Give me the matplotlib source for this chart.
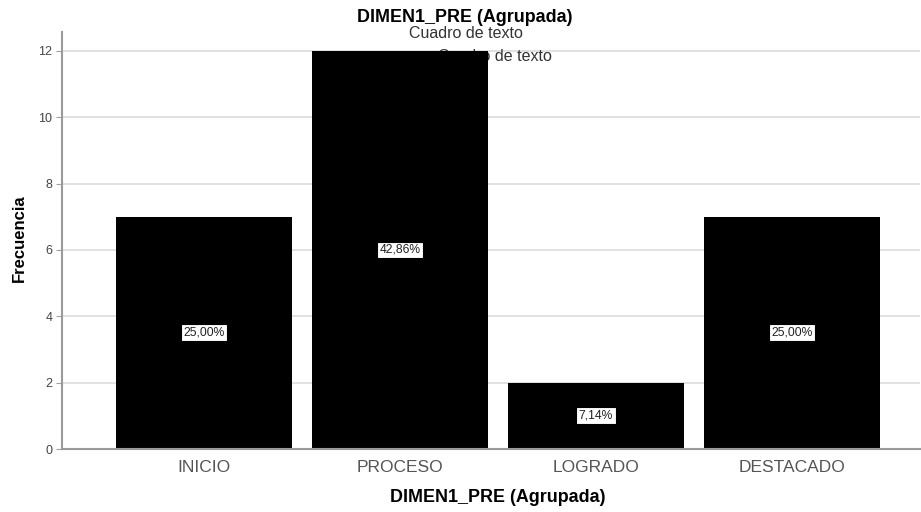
import matplotlib
matplotlib.use("Agg")
import matplotlib.pyplot as plt

categories = ["INICIO", "PROCESO", "LOGRADO", "DESTACADO"]
counts = [7, 12, 2, 7]
pct_labels = ["25,00%", "42,86%", "7,14%", "25,00%"]
yticks = [0, 2, 4, 6, 8, 10, 12]

plt.rcParams['font.family'] = ['Liberation Sans', 'DejaVu Sans']

fig = plt.figure(figsize=(9.21, 5.12), dpi=100)
L, B, W, H = 62, 63, 858, 417
ax = fig.add_axes([L/921, B/512, W/921, H/512])

x = list(range(len(categories)))
ax.bar(x, counts, width=0.9, color="black", zorder=3)
ax.set_xlim(-0.724, 3.653)
ax.set_ylim(0, 12.57)
ax.set_yticks(yticks)
ax.set_xticks(x)
ax.set_xticklabels(categories, fontsize=12.5, color="#555555")
ax.tick_params(axis='y', labelsize=9, colors="#444444", length=4, color="#a0a0a0", pad=3)
ax.tick_params(axis='x', length=0, pad=8)
ax.grid(axis='y', color="#dcdcdc", linewidth=1.2, zorder=0)
for s in ["top", "right"]:
    ax.spines[s].set_visible(False)
for s in ["left", "bottom"]:
    ax.spines[s].set_color("#9a9a9a")
    ax.spines[s].set_linewidth(1.5)
    ax.spines[s].set_zorder(4)

for xi, c, lab in zip(x, counts, pct_labels):
    ax.text(xi, c / 2, lab, ha="center", va="center", fontsize=8.7, color="#222222", zorder=5,
            bbox=dict(boxstyle="square,pad=0.2", fc="white", ec="black", lw=0.8))

ax.set_ylabel("Frecuencia", fontsize=12, fontweight="bold")
ax.yaxis.set_label_coords((27 - L) / W, (449 - 238) / H)
ax.set_xlabel("DIMEN1_PRE (Agrupada)", fontsize=12.9, fontweight="bold", va="center")
ax.xaxis.set_label_coords((498 - L) / W, (449 - 498) / H)

fig.text(465/921, 1 - 17/512, "DIMEN1_PRE (Agrupada)", ha="center", va="center",
         fontsize=12.9, fontweight="bold")
fig.text(466/921, 1 - 33/512, "Cuadro de texto", ha="center", va="center", fontsize=11.5, color="#333333")
ax.text(1.485, 11.82, "Cuadro de texto", ha="center", va="center", fontsize=11.5, color="#333333", zorder=2)

fig.savefig("out.png", dpi=100)
